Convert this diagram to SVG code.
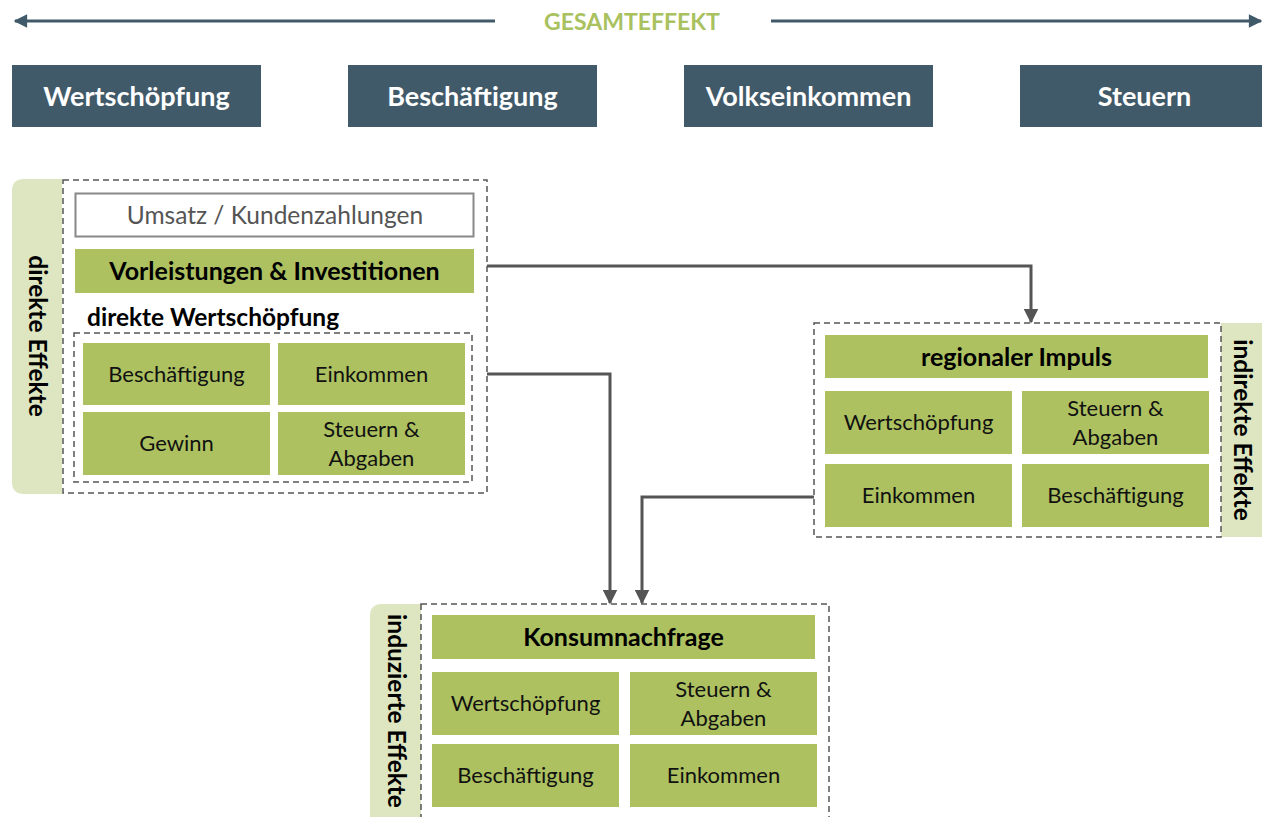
<svg xmlns="http://www.w3.org/2000/svg" width="1262" height="817" viewBox="0 0 1262 817">
<defs>
<style>
.hdr{fill:#415a69}
.hdrt{fill:#fff;font-family:Lato,"Open Sans",sans-serif;font-weight:bold;font-size:27px;text-anchor:middle}
.side{fill:#dde6c0}
.sidet{fill:#000;font-family:Lato,"Open Sans",sans-serif;font-weight:bold;font-size:24.5px;text-anchor:middle}
.dash{fill:none;stroke:#555;stroke-width:1.5;stroke-dasharray:6 4}
.g{fill:#adc160}
.t{fill:#111;font-family:Lato,"Open Sans",sans-serif;font-size:22px;text-anchor:middle}
.tb{fill:#000;font-family:Lato,"Open Sans",sans-serif;font-size:25px;font-weight:bold;text-anchor:middle}
.conn{fill:none;stroke:#555;stroke-width:3}
.top{stroke:#415a69;stroke-width:3;fill:none}
</style>
<marker id="ah" viewBox="0 0 10 10" refX="9" refY="5" markerWidth="5" markerHeight="5" markerUnits="strokeWidth" orient="auto"><path d="M0,0 L10,5 L0,10 z" fill="#555"/></marker>
<marker id="ahTop" viewBox="0 0 10 10" refX="9" refY="5" markerWidth="5" markerHeight="4.5" markerUnits="strokeWidth" orient="auto"><path d="M0,0 L10,5 L0,10 z" fill="#415a69"/></marker>
</defs>
<rect width="1262" height="817" fill="#fff"/>

<g id="gesamteffekt">
<line class="top" x1="495" y1="21" x2="15" y2="21" marker-end="url(#ahTop)"/>
<line class="top" x1="771" y1="21" x2="1261" y2="21" marker-end="url(#ahTop)"/>
<text x="632" y="30" fill="#a9c15e" font-family="Lato,'Open Sans',sans-serif" font-weight="bold" font-size="23" text-anchor="middle">GESAMTEFFEKT</text>
</g>

<g id="hdr-wertschoepfung"><rect class="hdr" x="12" y="65" width="249" height="62"/><text class="hdrt" x="136.5" y="106">Wertschöpfung</text></g>
<g id="hdr-beschaeftigung"><rect class="hdr" x="348" y="65" width="249" height="62"/><text class="hdrt" x="472.5" y="106">Beschäftigung</text></g>
<g id="hdr-volkseinkommen"><rect class="hdr" x="684" y="65" width="249" height="62"/><text class="hdrt" x="808.5" y="106">Volkseinkommen</text></g>
<g id="hdr-steuern"><rect class="hdr" x="1020" y="65" width="249" height="62"/><text class="hdrt" x="1144.5" y="106">Steuern</text></g>

<g id="direkte-effekte">
<path class="side" d="M62,179 L24,179 Q12,179 12,191 L12,482 Q12,494 24,494 L62,494 z"/>
<text class="sidet" transform="translate(29,336) rotate(90)">direkte Effekte</text>
<rect class="dash" x="63" y="180" width="424" height="313"/>
<rect x="75.5" y="193.5" width="398" height="43" fill="#fff" stroke="#888" stroke-width="2"/>
<text x="275" y="224" fill="#555" font-family="Lato,'Open Sans',sans-serif" font-size="24.5" text-anchor="middle">Umsatz / Kundenzahlungen</text>
<rect class="g" x="75" y="249" width="399" height="44"/>
<text class="tb" x="274.5" y="280">Vorleistungen &amp; Investitionen</text>
<text x="87" y="326" fill="#000" font-family="Lato,'Open Sans',sans-serif" font-size="24.5" font-weight="bold">direkte Wertschöpfung</text>
<rect class="dash" x="74" y="333" width="398" height="149"/>
<rect class="g" x="83" y="343" width="187" height="62"/><text class="t" x="176.5" y="382">Beschäftigung</text>
<rect class="g" x="278" y="343" width="187" height="62"/><text class="t" x="371.5" y="382">Einkommen</text>
<rect class="g" x="83" y="412" width="187" height="63"/><text class="t" x="176.5" y="451">Gewinn</text>
<rect class="g" x="278" y="412" width="187" height="63"/><text class="t" x="371.5" y="437">Steuern &amp;</text><text class="t" x="371.5" y="466">Abgaben</text>
</g>

<g id="indirekte-effekte">
<rect class="side" x="1221" y="323" width="41" height="214"/>
<text class="sidet" transform="translate(1234,430) rotate(90)">indirekte Effekte</text>
<rect class="dash" x="814" y="323" width="407" height="214"/>
<rect class="g" x="825" y="335" width="383" height="43"/>
<text class="tb" x="1016.5" y="366">regionaler Impuls</text>
<rect class="g" x="825" y="391" width="187" height="63"/><text class="t" x="918.5" y="430">Wertschöpfung</text>
<rect class="g" x="1022" y="391" width="187" height="63"/><text class="t" x="1115.5" y="416">Steuern &amp;</text><text class="t" x="1115.5" y="445">Abgaben</text>
<rect class="g" x="825" y="464" width="187" height="63"/><text class="t" x="918.5" y="503">Einkommen</text>
<rect class="g" x="1022" y="464" width="187" height="63"/><text class="t" x="1115.5" y="503">Beschäftigung</text>
</g>

<g id="induzierte-effekte">
<path class="side" d="M421,604 L382,604 Q370,604 370,616 L370,817 L421,817 z"/>
<text class="sidet" transform="translate(388,711) rotate(90)">induzierte Effekte</text>
<rect class="dash" x="421" y="604" width="408" height="220"/>
<rect class="g" x="432" y="615" width="383" height="44"/>
<text class="tb" x="623.5" y="646">Konsumnachfrage</text>
<rect class="g" x="432" y="672" width="187" height="63"/><text class="t" x="525.5" y="711">Wertschöpfung</text>
<rect class="g" x="630" y="672" width="187" height="63"/><text class="t" x="723.5" y="697">Steuern &amp;</text><text class="t" x="723.5" y="726">Abgaben</text>
<rect class="g" x="432" y="744" width="187" height="63"/><text class="t" x="525.5" y="783">Beschäftigung</text>
<rect class="g" x="630" y="744" width="187" height="63"/><text class="t" x="723.5" y="783">Einkommen</text>
</g>

<g id="connectors">
<path class="conn" d="M487,266 L1031,266 L1031,322" marker-end="url(#ah)"/>
<path class="conn" d="M487,374 L610,374 L610,603" marker-end="url(#ah)"/>
<path class="conn" d="M814,497 L642,497 L642,603" marker-end="url(#ah)"/>
</g>
</svg>
